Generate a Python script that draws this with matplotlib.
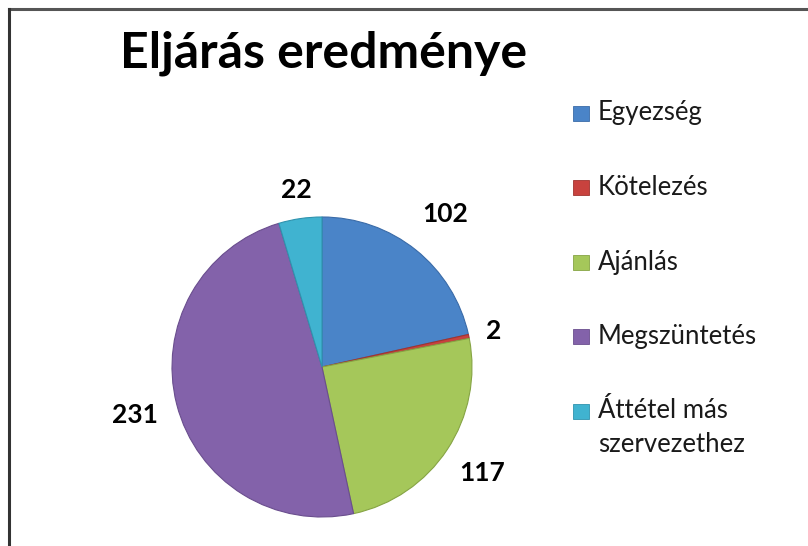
import matplotlib
matplotlib.use("Agg")
import matplotlib.pyplot as plt
from matplotlib.patches import Rectangle
import numpy as np

categories = ["Egyezség", "Kötelezés", "Ajánlás", "Megszüntetés", "Áttétel más\nszervezethez"]
values = [102, 2, 117, 231, 22]
colors = ["#4A84C8", "#C8423E", "#A5C75A", "#8362AA", "#40B3D0"]
edge_colors = ["#3A6BA8", "#A03430", "#86A444", "#6A4E8E", "#2F93AE"]
label_dist = [1.31, 1.17, 1.28, 1.29, 1.19]

W, H = 808, 546
fig = plt.figure(figsize=(W / 100, H / 100), dpi=100)
fig.patch.set_facecolor("white")

FONT = ["Lato", "DejaVu Sans"]

# frame lines (top and left)
fig.add_artist(plt.Line2D([9 / W, 1], [1 - 8.5 / H, 1 - 8.5 / H], color="#555555", lw=2.2))
fig.add_artist(plt.Line2D([8.5 / W, 8.5 / W], [0, 1 - 8.5 / H], color="#333333", lw=2.2))

cx, cy, r = 322, 367, 150
ax = fig.add_axes([(cx - r) / W, (H - cy - r) / H, 2 * r / W, 2 * r / H])
wedges, _ = ax.pie(values, colors=colors, startangle=90, counterclock=False,
                   radius=1, wedgeprops=dict(linewidth=0.8))
for w, ec in zip(wedges, edge_colors):
    w.set_edgecolor(ec)
ax.set_xlim(-1, 1)
ax.set_ylim(-1, 1)
ax.set_aspect("equal")
ax.axis("off")

for w, v, d in zip(wedges, values, label_dist):
    ang = np.deg2rad((w.theta1 + w.theta2) / 2)
    ax.text(d * np.cos(ang), d * np.sin(ang), str(v), ha="center", va="center",
            fontsize=19, fontweight="bold", family=FONT, color="black", clip_on=False)

fig.text(120 / W, 1 - 53 / H, "Eljárás eredménye", ha="left", va="center",
         fontsize=36, fontweight="bold", family=FONT, color="black")

# legend
for i, lab in enumerate(categories):
    y = 113 + i * 74.5
    fig.add_artist(Rectangle((573 / W, 1 - (y + 7.5) / H), 16 / W, 15 / H,
                             facecolor=colors[i], edgecolor=edge_colors[i], lw=0.6))
    lines = lab.split("\n")
    for j, ln in enumerate(lines):
        fig.text(598 / W, 1 - (y + j * 33) / H, ln, ha="left", va="center",
                 fontsize=18.5, family=FONT, color="#1a1a1a")

fig.savefig("out.png", dpi=100, facecolor="white")
